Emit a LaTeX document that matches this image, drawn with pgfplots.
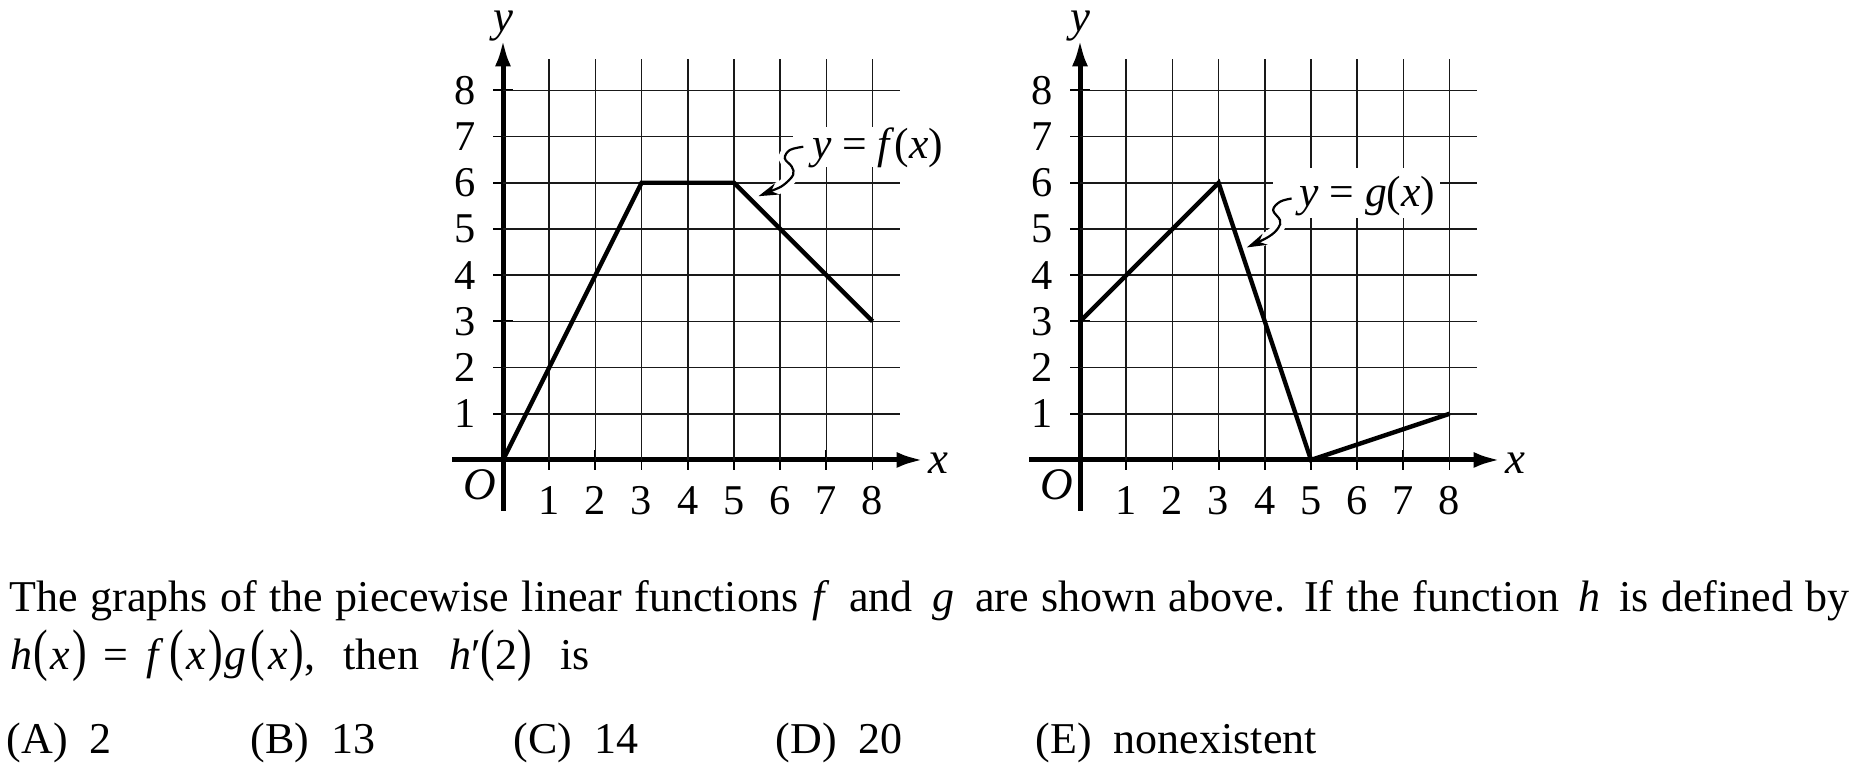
\documentclass[border=0pt]{standalone}
\usepackage{fontspec}
\setmainfont{Liberation Serif}
\usepackage{pgfplots}
\pgfplotsset{compat=1.18}
\usetikzlibrary{arrows.meta}
\newcommand{\vi}[1]{\textit{#1}}
\newcommand{\lp}{\scalebox{1}[1.3]{(}}
\newcommand{\rp}{\scalebox{1}[1.3]{)}}
\newcommand{\px}{\lp\hspace{0.6pt}\vi{x}\hspace{0.6pt}\rp}
\pgfplotsset{
  mygraph/.style={
    anchor=origin, x=11.55pt, y=11.55pt,
    xmin=-1.1, xmax=9.1, ymin=-1.1, ymax=9.1,
    axis lines=middle,
    axis line style={line width=1.25pt, -{Latex[length=6.7pt,width=4pt]}},
    xtick={1,...,8}, ytick={1,...,8},
    tick align=center, major tick length=5pt,
    tick style={line width=0.45pt, black},
    ticklabel style={font=\fontsize{10.6}{12}\selectfont},
    /pgf/number format/assume math mode=true,
    xticklabel style={anchor=north, inner sep=0pt, yshift=-4pt},
    yticklabel style={anchor=east, inner sep=0pt, xshift=-4.2pt},
    clip=false,
  },
}
\tikzset{
  gridl/.style={line width=0.42pt, black!90},
  curve/.style={line width=1.1pt, black},
  squig/.style={line width=0.55pt, black, smooth, tension=0.6, -{Stealth[length=5pt,width=3pt]}},
  halo/.style={line width=3pt, white, smooth, tension=0.6},
}
\begin{document}
\begin{tikzpicture}
% ---------- left graph: f ----------
\begin{axis}[mygraph, at={(125.75pt,79.5pt)}]
  \pgfplotsinvokeforeach{1,...,8}{
    \draw[gridl] (axis cs:#1,0) -- (axis cs:#1,8.67);
    \draw[gridl] (axis cs:0,#1) -- (axis cs:8.6,#1);
  }
  \fill[white] (axis cs:6.28,6.34) rectangle (axis cs:9.7,7.21);
  \addplot[halo] coordinates {(6.50,6.78) (6.21,6.71) (6.10,6.53) (6.25,6.35) (6.28,6.17) (6.07,5.95) (5.85,5.84) (5.62,5.74)};
  \addplot[squig] coordinates {(6.50,6.78) (6.21,6.71) (6.10,6.53) (6.25,6.35) (6.28,6.17) (6.07,5.95) (5.85,5.84) (5.53,5.71)};
  \addplot[curve] coordinates {(0,0) (3,6) (5,6) (8,3)};
  \node[font=\fontsize{10.9}{12}\selectfont, inner sep=0pt] at (axis cs:8.11,6.76) {\vi{y} = \vi{f}(\vi{x})};
  \node[font=\fontsize{11.3}{12}\selectfont, inner sep=0pt] at (axis cs:-0.50,-0.54) {\vi{O}};
  \node[font=\fontsize{11.2}{12}\selectfont, inner sep=0pt] at (axis cs:9.42,-0.07) {\vi{x}};
  \node[font=\fontsize{11.2}{12}\selectfont, inner sep=0pt] at (axis cs:0,9.4) {\vi{y}};
\end{axis}
% ---------- right graph: g ----------
\begin{axis}[mygraph, at={(270pt,79.5pt)}]
  \pgfplotsinvokeforeach{1,...,8}{
    \draw[gridl] (axis cs:#1,0) -- (axis cs:#1,8.67);
    \draw[gridl] (axis cs:0,#1) -- (axis cs:8.6,#1);
  }
  \fill[white] (axis cs:4.18,5.24) rectangle (axis cs:7.79,6.32);
  \addplot[halo] coordinates {(4.58,5.66) (4.33,5.59) (4.18,5.41) (4.33,5.19) (4.29,5.02) (4.08,4.83) (3.70,4.64)};
  \addplot[squig] coordinates {(4.58,5.66) (4.33,5.59) (4.18,5.41) (4.33,5.19) (4.29,5.02) (4.08,4.83) (3.61,4.60)};
  \addplot[curve] coordinates {(0,3) (3,6) (5,0) (8,1)};
  \node[font=\fontsize{10.9}{12}\selectfont, inner sep=0pt] at (axis cs:6.22,5.72) {\vi{y} = \vi{g}(\vi{x})};
  \node[font=\fontsize{11.3}{12}\selectfont, inner sep=0pt] at (axis cs:-0.50,-0.54) {\vi{O}};
  \node[font=\fontsize{11.2}{12}\selectfont, inner sep=0pt] at (axis cs:9.42,-0.07) {\vi{x}};
  \node[font=\fontsize{11.2}{12}\selectfont, inner sep=0pt] at (axis cs:0,9.4) {\vi{y}};
\end{axis}
% ---------- text ----------
\begin{scope}[every node/.style={anchor=base west, inner sep=0pt, font=\fontsize{11}{12}\selectfont}]
  \node at (2.2pt,41.6pt) {\makebox[460pt][s]{The graphs of the piecewise linear functions\hspace{0.05em} \vi{f}\hspace{0.15em} and\hspace{0.15em} \vi{g}\hspace{0.2em} are shown above. If the function\hspace{0.15em} \vi{h}\hspace{0.15em} is defined by}};
  \node at (2.4pt,27pt) {\vi{h}\hspace{0.3pt}\px\hspace{4pt}=\hspace{4.5pt}\vi{f}\hspace{1.5pt}\px\hspace{0.5pt}\vi{g}\hspace{1pt}\px,\hspace{7pt}then\hspace{7.5pt}\vi{h}′\lp2\rp\hspace{7pt}is};
  \node at (1.5pt,6.2pt) {(A)\ \ 2};
  \node at (62.5pt,6.2pt) {(B)\ \ 13};
  \node at (128.25pt,6.2pt) {(C)\ \ 14};
  \node at (193.75pt,6.2pt) {(D)\ \ 20};
  \node at (258.75pt,6.2pt) {(E)\ \ nonexistent};
\end{scope}
\pgfresetboundingbox
\path[use as bounding box] (0,0) rectangle (464pt,194.5pt);
\end{tikzpicture}
\end{document}
